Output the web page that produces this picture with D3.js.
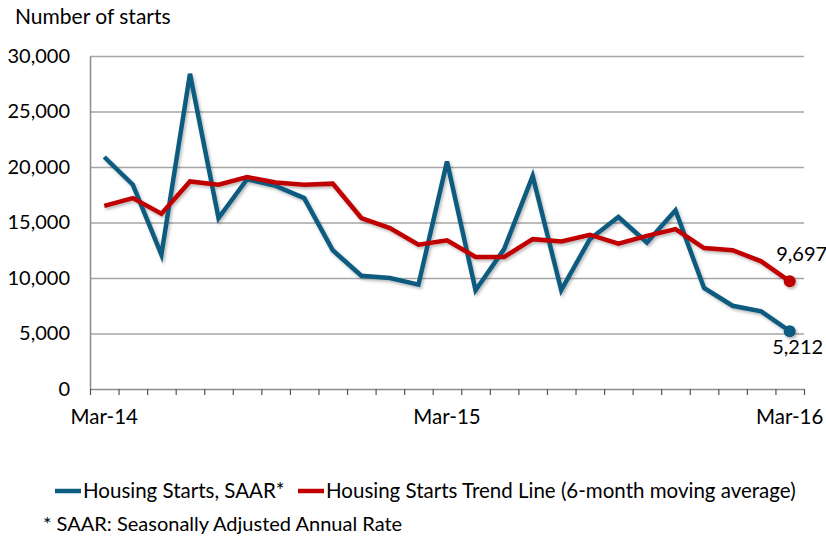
<!DOCTYPE html>
<html><head><meta charset="utf-8">
<script src="https://cdn.jsdelivr.net/npm/d3@7"></script>
<style>
body{margin:0;background:#fff;}
svg{display:block;}
text{font-family:"Lato","Open Sans",sans-serif;fill:#000;}
</style></head>
<body>
<svg id="chart" width="826" height="540"></svg>
<script>
const months = ["Mar-14","Apr-14","May-14","Jun-14","Jul-14","Aug-14","Sep-14","Oct-14","Nov-14","Dec-14","Jan-15","Feb-15","Mar-15","Apr-15","May-15","Jun-15","Jul-15","Aug-15","Sep-15","Oct-15","Nov-15","Dec-15","Jan-16","Feb-16","Mar-16"];
const starts = [20900,18400,12100,28400,15400,18900,18300,17200,12500,10200,10000,9400,20500,8900,12600,19200,8900,13500,15500,13200,16100,9100,7500,7000,5212];
const trend  = [16500,17200,15800,18700,18400,19100,18600,18400,18500,15400,14500,13000,13400,11900,11900,13500,13300,13900,13100,13800,14400,12700,12500,11500,9697];
const xLabels = ["Mar-14","Mar-15","Mar-16"];
const yTicks = [0,5000,10000,15000,20000,25000,30000];
const seriesNames = ["Housing Starts, SAAR*","Housing Starts Trend Line (6-month moving average)"];
const colors = ["#0e5c80","#c00000"];

const svg = d3.select("#chart");
const L = 90, R = 804, T = 56, B = 389;
const x = d3.scaleBand().domain(months).range([L, R]).padding(0);
const xi = d3.scaleLinear().domain([0, months.length]).range([L, R]);
const y = d3.scaleLinear().domain([0, 30000]).range([B, T]);
const cx = m => x(m) + x.bandwidth()/2;

const defs = svg.append("defs");
const f = defs.append("filter").attr("id","sh").attr("x","-10%").attr("y","-10%").attr("width","130%").attr("height","130%");
f.append("feDropShadow").attr("dx",1.5).attr("dy",2).attr("stdDeviation",1.5).attr("flood-color","#000").attr("flood-opacity",0.28);

// gridlines
svg.append("g").selectAll("line").data(yTicks.filter(d=>d>0)).join("line")
  .attr("x1", L).attr("x2", R).attr("y1", d=>y(d)+0.5).attr("y2", d=>y(d)+0.5)
  .attr("stroke","#a6a6a6").attr("stroke-width",1.3);

// y axis
const ya = svg.append("g").attr("transform",`translate(${L},0)`)
  .call(d3.axisLeft(y).tickValues(yTicks).tickFormat(d3.format(",")).tickSize(0).tickPadding(20));
ya.select(".domain").attr("stroke","#8c8c8c").attr("stroke-width",1.5);
ya.selectAll("text").style("font-size","20px").attr("font-family",null);

// x axis ticks at band boundaries
const xa = svg.append("g").attr("transform",`translate(0,${B})`)
  .call(d3.axisBottom(xi).tickValues(d3.range(months.length+1)).tickFormat("").tickSize(6).tickSizeOuter(0));
xa.select(".domain").attr("stroke","#8c8c8c").attr("stroke-width",1.5);
xa.selectAll(".tick line").attr("stroke","#555").attr("stroke-width",1.2);

// x labels
const xl = svg.append("g").attr("transform",`translate(0,${B})`)
  .call(d3.axisBottom(x).tickValues(xLabels).tickSize(0).tickPadding(20));
xl.select(".domain").remove();
xl.selectAll("text").style("font-size","20.5px").attr("font-family",null);

// y title
svg.append("text").attr("x",15).attr("y",24).style("font-size","21px").text("Number of starts");

// lines
const line = d3.line().x((d,i)=>cx(months[i])).y(d=>y(d));
const data = [starts, trend];
const lg = svg.append("g").attr("filter","url(#sh)");
data.forEach((s,k)=>{
  lg.append("path").datum(s).attr("d", line).attr("fill","none")
    .attr("stroke", colors[k]).attr("stroke-width",4.5).attr("stroke-linejoin","miter");
});
// end markers
data.forEach((s,k)=>{
  const n = s.length-1;
  lg.append("circle").attr("cx", cx(months[n])).attr("cy", y(s[n])).attr("r",6).attr("fill",colors[k]);
});
// end labels
svg.append("text").attr("x", cx(months[24])+12).attr("y", y(trend[24])-20).attr("text-anchor","middle")
  .style("font-size","20px").text(d3.format(",")(trend[24]));
svg.append("text").attr("x", cx(months[24])+8).attr("y", y(starts[24])+23).attr("text-anchor","middle")
  .style("font-size","20px").text(d3.format(",")(starts[24]));

// legend
const leg = svg.append("g");
leg.append("line").attr("x1",55).attr("x2",81).attr("y1",491).attr("y2",491).attr("stroke",colors[0]).attr("stroke-width",4.5);
leg.append("text").attr("x",83).attr("y",498).style("font-size","20.5px").text(seriesNames[0]);
leg.append("line").attr("x1",298).attr("x2",324).attr("y1",491).attr("y2",491).attr("stroke",colors[1]).attr("stroke-width",4.5);
leg.append("text").attr("x",326).attr("y",498).style("font-size","20.5px").text(seriesNames[1]);
svg.append("text").attr("x",43).attr("y",531).style("font-size","20px").text("* SAAR: Seasonally Adjusted Annual Rate");
</script>
</body></html>
